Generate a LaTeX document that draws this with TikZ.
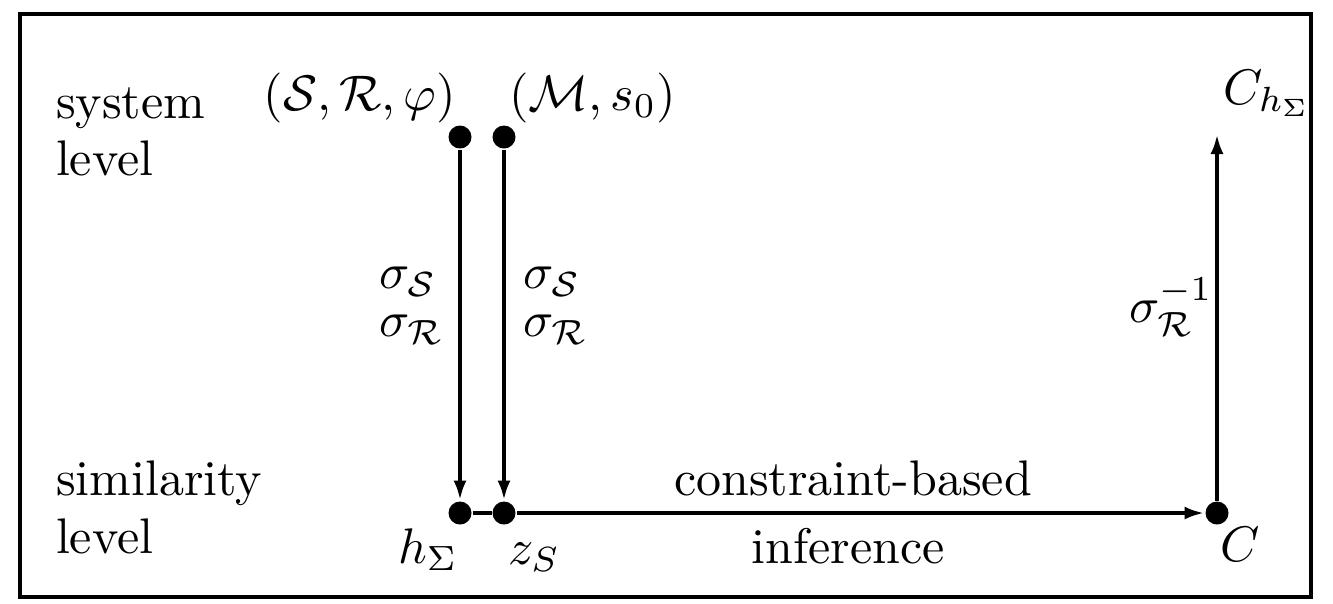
\documentclass[tikz,border=0pt]{standalone}
\usetikzlibrary{arrows.meta}
\begin{document}
\begin{tikzpicture}[x=0.2pt,y=-0.2pt,
  dot/.style={circle,fill=black,inner sep=0pt,minimum size=4.6pt},
  lbl/.style={inner sep=0pt},
  stack/.style={inner sep=0pt,align=left,anchor=north west},
  conn/.style={line width=0.8pt},
  arr/.style={line width=0.8pt,-{Latex[length=4pt,width=2.6pt]}},
  frame/.style={line width=0.9pt}]
\useasboundingbox (0,0) rectangle (1333,603);
\draw[frame] (20,14) rectangle (1311,597);
% level labels
\node[lbl,anchor=base west] (sys1) at (55,118) {system};
\node[lbl,anchor=base west] (sys2) at (55,175) {level};
\node[lbl,anchor=base west] (sim1) at (55,495) {similarity};
\node[lbl,anchor=base west] (sim2) at (55,553) {level};
% dots
\node[dot] (a) at (460,137) {};
\node[dot] (b) at (504,137) {};
\node[dot] (h) at (460,513) {};
\node[dot] (z) at (504,513) {};
\node[dot] (c) at (1217,513) {};
\coordinate (top) at (1217,134);
% top labels
\node[lbl,anchor=base east] (srp) at (457,110) {$(\mathcal{S},\mathcal{R},\varphi)$};
\node[lbl,anchor=base west] (ms) at (508,110) {$(\mathcal{M},s_0)$};
\node[lbl,anchor=base west] (ch) at (1222,104) {$C_{h_\Sigma}$};
% bottom labels
\node[lbl,anchor=base west] (hl) at (397,563) {$h_\Sigma$};
\node[lbl,anchor=base west] (zl) at (507,564) {$z_S$};
\node[lbl,anchor=base west] (cl) at (1219,561) {$C$};
% sigma labels
\node[stack] (s1) at (378,266) {$\sigma_{\mathcal{S}}$\\[-2.4pt]$\sigma_{\mathcal{R}}$};
\node[stack] (s2) at (522,266) {$\sigma_{\mathcal{S}}$\\[-2.4pt]$\sigma_{\mathcal{R}}$};
\node[lbl,anchor=base west] (ri) at (1128,322) {$\sigma_{\mathcal{R}}^{-1}$};
% inference labels
\node[lbl,anchor=base] (cb) at (853,495) {constraint-based};
\node[lbl,anchor=base] (inf) at (848,563) {inference};
% connectors
\draw[arr] (a) -- (h);
\draw[arr] (b) -- (z);
\draw[conn] (h) -- (z);
\draw[arr] (z) -- (c);
\draw[arr] (c) -- (top);
\end{tikzpicture}
\end{document}
